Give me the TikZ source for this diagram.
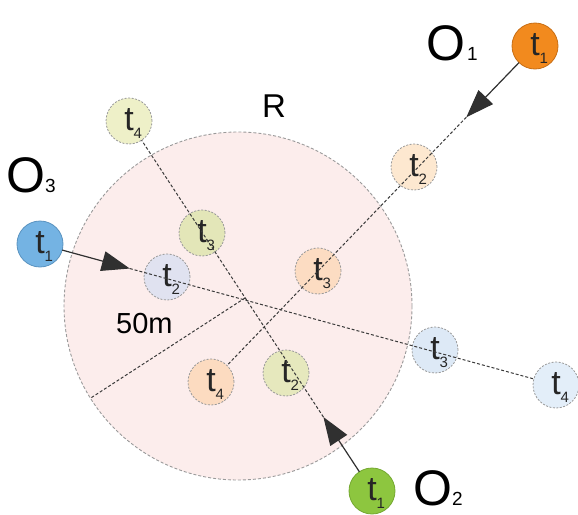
\documentclass[tikz,border=0pt]{standalone}
\usepackage{fontspec}
\setmainfont{Liberation Sans}
\usetikzlibrary{arrows.meta,calc}
\definecolor{pinkfill}{HTML}{FCEDEC}
\definecolor{bordgrey}{HTML}{9A9A9A}
\definecolor{linegrey}{HTML}{3A3A3A}
\definecolor{leadcol}{HTML}{303030}
\definecolor{oA}{HTML}{F28A1E}\definecolor{oAb}{HTML}{C86E14}
\definecolor{oB}{HTML}{FDE8D0}\definecolor{oC}{HTML}{FCDCC2}\definecolor{oD}{HTML}{FCDBC0}
\definecolor{gA}{HTML}{8DC63F}\definecolor{gAb}{HTML}{74A830}
\definecolor{gB}{HTML}{E6E8BD}\definecolor{gC}{HTML}{E3E6B8}\definecolor{gD}{HTML}{EEF0C8}
\definecolor{bA}{HTML}{74B3E3}\definecolor{bAb}{HTML}{5A93C0}
\definecolor{bB}{HTML}{E0E2F0}\definecolor{bC}{HTML}{DDE9F6}\definecolor{bD}{HTML}{E3EEF9}
\newcommand\tlab[1]{\smash{\makebox[0pt]{\raisebox{-9pt}{\fontsize{34}{34}\selectfont t}}\rlap{\hspace{4.5pt}\raisebox{-17pt}{\fontsize{15}{15}\selectfont #1}}}}
\tikzset{
  ghost/.style={circle, minimum size=46pt, inner sep=0pt, outer sep=0pt, draw=bordgrey, dash pattern=on 2pt off 1.5pt, line width=0.8pt, text=black!85},
  start/.style={circle, minimum size=46pt, inner sep=0pt, outer sep=0pt, line width=0.8pt, text=black!85},
  traj/.style={draw=linegrey, dash pattern=on 3pt off 2pt, line width=1pt},
  lead/.style={draw=leadcol, line width=1.2pt, -{Triangle[length=28pt,width=20pt]}},
  bigtext/.style={anchor=base west, inner sep=0pt, text=black},
}
\begin{document}
\begin{tikzpicture}[x=1pt,y=-1pt]
\useasboundingbox (0,0) rectangle (578,514);
% region
\node[circle, minimum size=348pt, inner sep=0pt, outer sep=0pt, fill=pinkfill, draw=bordgrey, dash pattern=on 3pt off 2pt, line width=0.9pt] (R) at (238,306) {};
\coordinate (rc) at (245,298);
\draw[traj] (rc) -- (R.212);
% ghost positions
\node[ghost, fill=oB] (o2) at (414,167) {\tlab{2}};
\node[ghost, fill=oC] (o3) at (318,271) {\tlab{3}};
\node[ghost, fill=oD] (o4) at (211,382) {\tlab{4}};
\node[ghost, fill=gB] (g2) at (286,373) {\tlab{2}};
\node[ghost, fill=gC] (g3) at (202,233) {\tlab{3}};
\node[ghost, fill=gD] (g4) at (129,121) {\tlab{4}};
\node[ghost, fill=bB] (b2) at (167,277) {\tlab{2}};
\node[ghost, fill=bC] (b3) at (435,350) {\tlab{3}};
\node[ghost, fill=bD] (b4) at (556,385) {\tlab{4}};
% start positions
\node[start, fill=oA, draw=oAb] (o1) at (535,46) {\tlab{1}};
\node[start, fill=gA, draw=gAb] (g1) at (372,491) {\tlab{1}};
\node[start, fill=bA, draw=bAb] (b1) at (40,244) {\tlab{1}};
% arrow tips
\coordinate (oa) at ($(o1)!0.212!(o4)$);
\coordinate (ga) at ($(g1)!0.2!(g4)$);
\coordinate (ba) at ($(b1)!0.174!(b4)$);
% trajectories
\draw[lead] (o1) -- (oa);
\draw[traj] (oa) -- (o4);
\draw[lead] (g1) -- (ga);
\draw[traj] (ga) -- (g4);
\draw[lead] (b1) -- (ba);
\draw[traj] (ba) -- (b4);
% labels
\node[bigtext] (O1) at (426,60) {{\fontsize{50}{50}\selectfont O}\hspace{2pt}{\fontsize{19}{19}\selectfont 1}};
\node[bigtext] (O2) at (413,505) {{\fontsize{50}{50}\selectfont O}{\fontsize{19}{19}\selectfont 2}};
\node[bigtext] (O3) at (6,192) {{\fontsize{50}{50}\selectfont O}{\fontsize{19}{19}\selectfont 3}};
\node[bigtext] (Rlab) at (262,117) {\fontsize{33}{33}\selectfont R};
\node[bigtext] (dist) at (116,333) {\fontsize{29}{29}\selectfont 50m};
\end{tikzpicture}
\end{document}
